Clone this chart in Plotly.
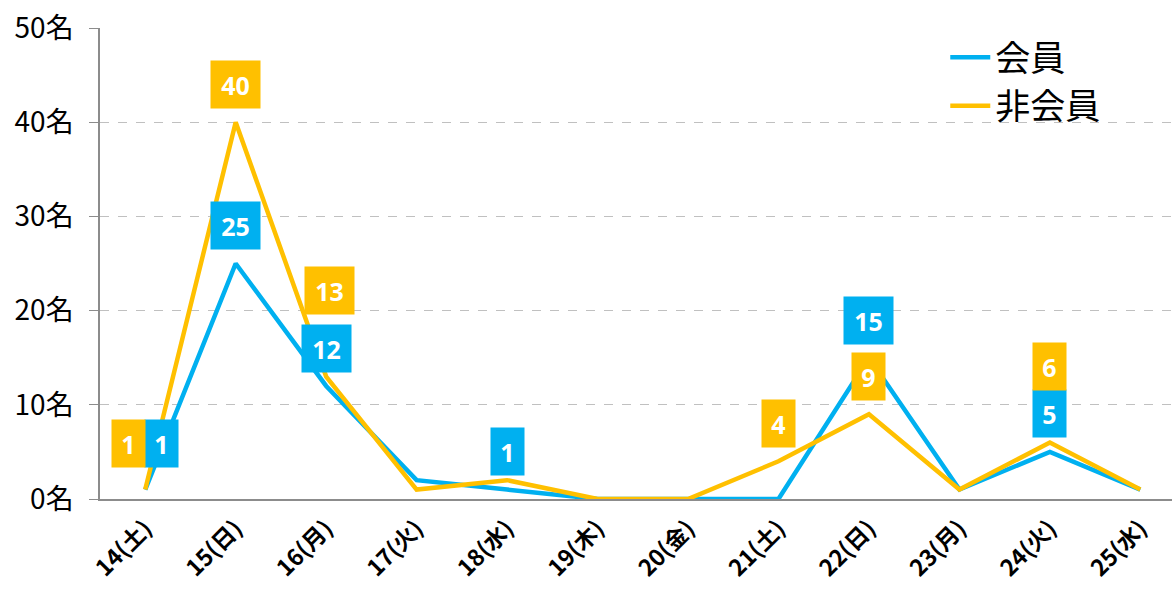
import plotly.graph_objects as go

categories = ["14(土)", "15(日)", "16(月)", "17(火)", "18(水)", "19(木)",
              "20(金)", "21(土)", "22(日)", "23(月)", "24(火)", "25(水)"]
members = [1, 25, 12, 2, 1, 0, 0, 0, 15, 1, 5, 1]
non_members = [1, 40, 13, 1, 2, 0, 0, 4, 9, 1, 6, 1]
y_ticks = [0, 10, 20, 30, 40, 50]
y_tick_labels = [f"{v}名" for v in y_ticks]

BLUE = "#00B0F0"
ORANGE = "#FFC000"

fig = go.Figure()
fig.add_trace(go.Scatter(x=categories, y=members, mode="lines", name="会員",
                         line=dict(color=BLUE, width=4.5), legendgroup="a"))
fig.add_trace(go.Scatter(x=categories, y=non_members, mode="lines", name="非会員",
                         line=dict(color=ORANGE, width=4.5), legendgroup="b"))

# labelled points: (series values, color, index, yshift, xshift)
label_specs = [
    (members, BLUE, 0, 46, 16), (members, BLUE, 1, 38, 0), (members, BLUE, 2, 37, 0),
    (members, BLUE, 4, 38, 0), (members, BLUE, 8, 37, 0), (members, BLUE, 10, 38, 0),
    (non_members, ORANGE, 0, 46, -17), (non_members, ORANGE, 1, 38, 0),
    (non_members, ORANGE, 2, 86, 3), (non_members, ORANGE, 7, 38, 0),
    (non_members, ORANGE, 8, 38, 0), (non_members, ORANGE, 10, 76, 0),
]
for series, color, i, ys, xs in label_specs:
    txt = str(series[i])
    fig.add_annotation(x=categories[i], y=series[i], xref="x", yref="y",
                       text=f"<b>{txt}</b>", showarrow=False,
                       xanchor="center", yanchor="middle",
                       yshift=ys, xshift=xs,
                       bgcolor=color, borderpad=0,
                       width=33 if len(txt) == 1 else 49, height=47,
                       font=dict(family="Noto Sans, sans-serif", size=25, color="white"))

fig.update_layout(
    width=1172, height=589,
    margin=dict(l=100, r=0, t=28, b=90),
    plot_bgcolor="white", paper_bgcolor="white",
    showlegend=True,
    legend=dict(x=0.7885, y=1.0, xanchor="left", yanchor="top",
                font=dict(family="Noto Sans CJK JP", size=35, color="black"),
                bgcolor="rgba(0,0,0,0)", tracegroupgap=0, itemwidth=40),
    font=dict(family="Noto Sans CJK JP"),
)
fig.update_xaxes(type="category", range=[-0.5, 11.35], automargin=False,
                 showline=True, linecolor="#8c8c8c", linewidth=1.5,
                 ticks="", tickangle=-45, ticklabelstandoff=5,
                 tickfont=dict(family="Noto Sans CJK JP", size=23, color="black", weight="bold"),
                 showgrid=False)
fig.update_yaxes(range=[0, 50], tickvals=y_ticks, ticktext=y_tick_labels, automargin=False,
                 showline=True, linecolor="#8c8c8c", linewidth=1.5,
                 ticks="outside", ticklen=9, tickcolor="#8c8c8c",
                 ticklabelstandoff=10,
                 tickfont=dict(family="Noto Sans CJK JP", size=28, color="black"),
                 showgrid=True, gridcolor="#c0c0c0", griddash="dash", gridwidth=1,
                 zeroline=False)

fig.write_html("out.html", config={"displayModeBar": False},
               post_script="document.body.style.margin='0';document.body.style.overflow='hidden';")
